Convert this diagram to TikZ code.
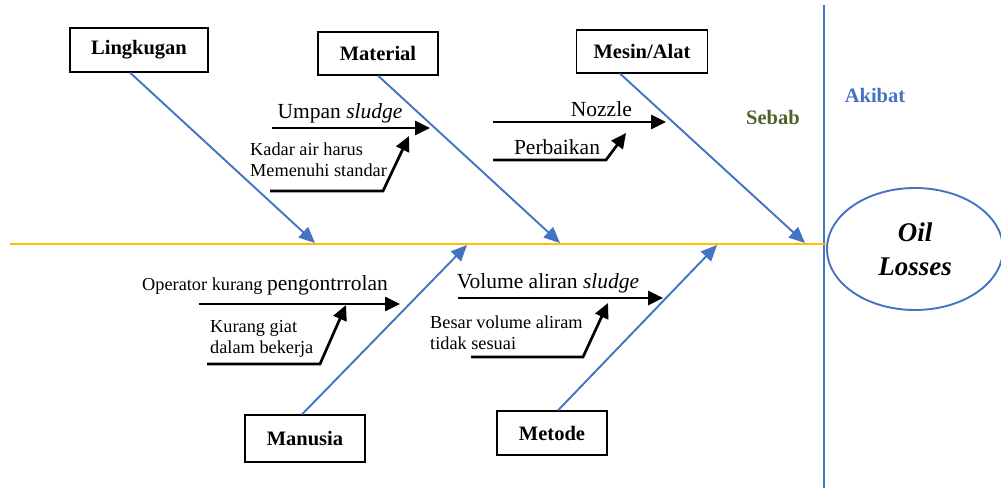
\documentclass[tikz,border=0pt]{standalone}
\usepackage{fontspec}
\setmainfont{Liberation Serif}
\usetikzlibrary{arrows.meta,shapes.geometric}
\definecolor{boneblue}{HTML}{4472C4}
\definecolor{spineyellow}{HTML}{FFC000}
\definecolor{causegreen}{HTML}{4F6228}
\tikzset{
    fishbone/.style  = {x=1pt, y=-1pt},
    spine/.style     = {draw=spineyellow, line width=2.6pt},
    divider/.style   = {draw=boneblue, line width=1.1pt},
    bone/.style      = {draw=boneblue, line width=1.9pt,
                        -{Triangle[length=16pt, width=14pt]}},
    sub/.style       = {draw=black, line width=2.7pt,
                        -{Triangle[length=15pt, width=14pt]}},
    category/.style  = {draw, line width=1.2pt, fill=white,
                        minimum height=44pt, inner sep=0pt,
                        font=\fontsize{20.5}{24}\selectfont\bfseries},
    cause/.style     = {inner sep=0pt, font=\fontsize{18.3}{21}\selectfont},
    bigcause/.style  = {inner sep=0pt, font=\fontsize{21.5}{24}\selectfont},
    effect/.style    = {draw=boneblue, line width=1.9pt, ellipse,
                        minimum width=176pt, minimum height=122pt,
                        align=center,
                        font=\fontsize{27}{34}\selectfont\bfseries\itshape},
    heading/.style   = {inner sep=0pt, font=\fontsize{20.5}{24}\selectfont\bfseries}
}

\begin{document}
\begin{tikzpicture}[fishbone]
\useasboundingbox (0,0) rectangle (1001,488);

% ================= Effect side =================
\draw[divider] (824,5) -- (824,488);
\node[effect] (losses) at (915,249) {Oil\\Losses};
\node[heading, text=boneblue] (akibat) at (875,95) {Akibat};
\node[heading, text=causegreen] (sebab) at (773,117) {Sebab};

% ================= Spine =================
\coordinate (tail) at (10,244);
\draw[spine] (tail) -- (tail -| losses.west);

% ================= Categories =================
\node[category, minimum width=138pt] (lingkugan) at (139,50) {Lingkugan};
\node[category, minimum width=120pt, minimum height=43pt] (material) at (378,53.5) {Material};
\node[category, minimum width=131pt, minimum height=43pt] (mesin) at (642,51.5) {Mesin/Alat};
\node[category, minimum width=120pt, minimum height=47pt] (manusia) at (305,438.5) {Manusia};
\node[category, minimum width=110pt] (metode) at (552,433) {Metode};

% ================= Main bones =================
\coordinate (lingkugan end) at (315,243);
\coordinate (material end) at (560,243);
\coordinate (mesin end) at (805,243);
\coordinate (manusia end) at (467,245);
\coordinate (metode end) at (717,245);
\draw[bone] ([xshift=-9pt]lingkugan.south) -- (lingkugan end);
\draw[bone] (material.south) -- (material end);
\draw[bone] ([xshift=-22pt]mesin.south) -- (mesin end);
\draw[bone] ([xshift=-3pt]manusia.north) -- (manusia end);
\draw[bone] ([xshift=6pt]metode.north) -- (metode end);

% ================= Material causes =================
\node[bigcause] (umpan) at (340,113) {Umpan \textit{sludge}};
\coordinate (umpan start) at (272,128);
\coordinate (umpan tip) at (430,128);
\draw[sub] (umpan start) -- (umpan tip);
\node[cause, align=left, anchor=west] (kadar) at (250,160)
    {Kadar air harus\\Memenuhi standar};
\coordinate (kadar start) at (270,191);
\coordinate (kadar knee) at (383,191);
\coordinate (kadar tip) at (409,136);
\draw[sub] (kadar start) -- (kadar knee) -- (kadar tip);

% ================= Mesin/Alat causes =================
\node[bigcause, anchor=east] (nozzle) at (632,109) {Nozzle};
\coordinate (nozzle start) at (493,122);
\coordinate (nozzle tip) at (666,122);
\draw[sub] (nozzle start) -- (nozzle tip);
\node[bigcause] (perbaikan) at (557,147) {Perbaikan};
\coordinate (perbaikan start) at (493,160);
\coordinate (perbaikan knee) at (606,160);
\coordinate (perbaikan tip) at (626,133);
\draw[sub] (perbaikan start) -- (perbaikan knee) -- (perbaikan tip);

% ================= Manusia causes =================
\node[cause, anchor=west] (operator) at (142,285)
    {Operator kurang {\fontsize{21.5}{24}\selectfont pengontrrolan}};
\coordinate (operator start) at (199,304);
\coordinate (operator tip) at (400,304);
\draw[sub] (operator start) -- (operator tip);
\node[cause, align=left, anchor=west] (giat) at (210,339)
    {Kurang giat\\dalam bekerja};
\coordinate (giat start) at (207,364);
\coordinate (giat knee) at (320,364);
\coordinate (giat tip) at (346,305);
\draw[sub] (giat start) -- (giat knee) -- (giat tip);

% ================= Metode causes =================
\node[bigcause] (volume) at (548,283) {Volume aliran \textit{sludge}};
\coordinate (volume start) at (458,298);
\coordinate (volume tip) at (663,298);
\draw[sub] (volume start) -- (volume tip);
\node[cause, align=left, anchor=west] (besar) at (430,333)
    {Besar volume aliram\\tidak sesuai};
\coordinate (besar start) at (471,357);
\coordinate (besar knee) at (583,357);
\coordinate (besar tip) at (608,303);
\draw[sub] (besar start) -- (besar knee) -- (besar tip);

\end{tikzpicture}
\end{document}
